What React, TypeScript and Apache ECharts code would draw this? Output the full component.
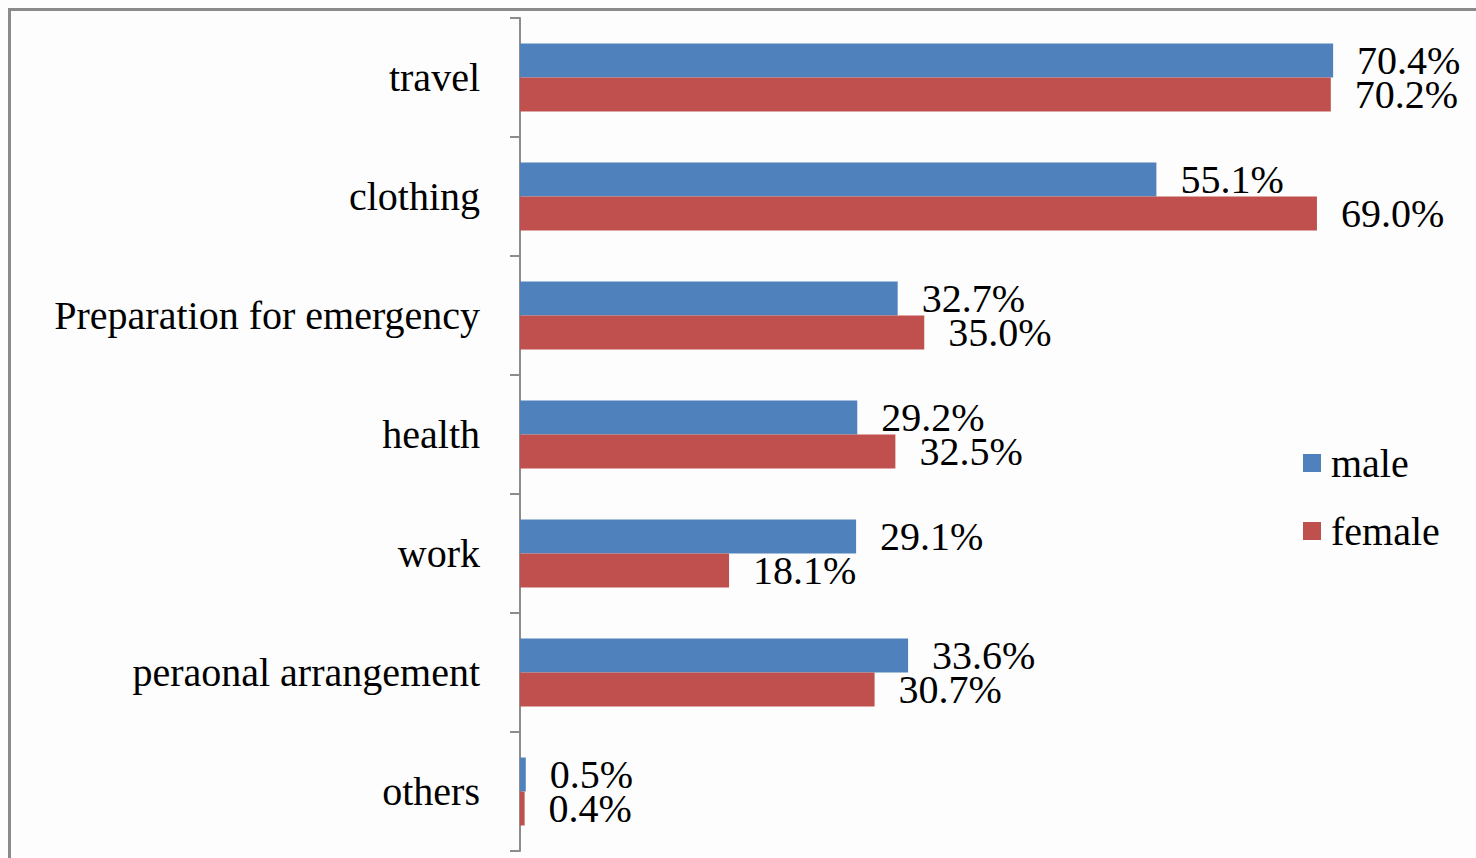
import React, { useEffect, useRef } from "react";
import * as echarts from "echarts";

const categories = [
  "travel",
  "clothing",
  "Preparation for emergency",
  "health",
  "work",
  "peraonal arrangement",
  "others",
];
const maleValues = [70.4, 55.1, 32.7, 29.2, 29.1, 33.6, 0.5];
const femaleValues = [70.2, 69.0, 35.0, 32.5, 18.1, 30.7, 0.4];
const seriesNames = ["male", "female"];

const FONT = "'Liberation Serif', 'Times New Roman', serif";

export default function App() {
  const ref = useRef<HTMLDivElement>(null);
  useEffect(() => {
    if (!ref.current) return;
    const chart = echarts.init(ref.current, undefined, { renderer: "svg" });
    const labelStyle = {
      show: true,
      position: "right",
      distance: 24,
      color: "#000",
      fontFamily: FONT,
      fontSize: 40,
      lineHeight: 32,
      formatter: (p: any) => p.value.toFixed(1) + "%",
    };
    chart.setOption({
      animation: false,
      backgroundColor: "#fdfdfd",
      graphic: [
        {
          type: "rect",
          shape: { x: 9.5, y: 9.5, width: 2000, height: 2000 },
          style: { fill: "none", stroke: "#8a8a8a", lineWidth: 3 },
          silent: true,
        },
      ],
      legend: {
        orient: "vertical",
        left: 1303,
        top: 442,
        padding: 0,
        icon: "rect",
        itemWidth: 18,
        itemHeight: 18,
        itemGap: 26,
        data: seriesNames,
        textStyle: {
          fontFamily: FONT,
          fontSize: 40,
          lineHeight: 42,
          color: "#000",
          padding: [0, 0, 0, 5],
        },
      },
      grid: { left: 520, top: 18, bottom: 7, right: 32, containLabel: false },
      xAxis: {
        type: "value",
        min: 0,
        max: 80,
        show: false,
        splitLine: { show: false },
      },
      yAxis: {
        type: "category",
        inverse: true,
        data: categories,
        axisLine: { show: true, lineStyle: { color: "#8c8c8c", width: 2 } },
        axisTick: { show: true, length: 10, lineStyle: { color: "#8c8c8c", width: 2 } },
        axisLabel: {
          margin: 40,
          color: "#000",
          fontFamily: FONT,
          fontSize: 40,
        },
      },
      series: [
        {
          name: seriesNames[0],
          type: "bar",
          data: maleValues,
          barWidth: 34,
          barGap: "0%",
          itemStyle: { color: "#4f81bd" },
          label: labelStyle,
        },
        {
          name: seriesNames[1],
          type: "bar",
          data: femaleValues,
          barWidth: 34,
          barGap: "0%",
          itemStyle: { color: "#c0504d" },
          label: labelStyle,
        },
      ],
    });
    return () => chart.dispose();
  }, []);
  return (
    <div
      ref={ref}
      style={{ position: "fixed", left: 0, top: 0, width: 1476, height: 858 }}
    />
  );
}
